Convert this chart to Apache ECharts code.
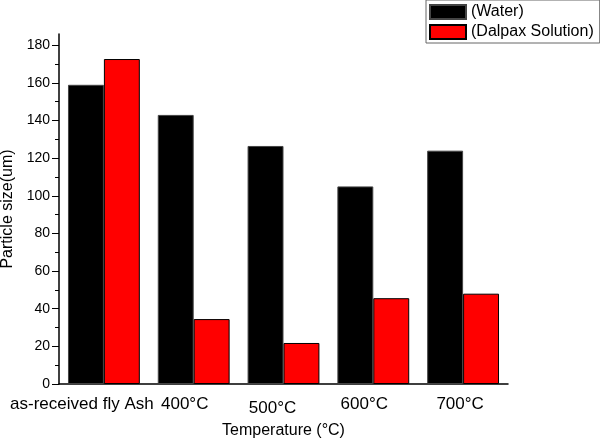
<!DOCTYPE html>
<html>
<head>
<meta charset="utf-8">
<script src="https://cdn.jsdelivr.net/npm/echarts@6/dist/echarts.min.js"></script>
<style>html,body{margin:0;padding:0;background:#fff}#c{width:600px;height:440px}</style>
</head>
<body>
<div id="c"></div>
<script>
var categories = ['as-received fly Ash', '400°C', '500°C', '600°C', '700°C'];
var waterValues = [159, 143, 126.5, 105, 124];
var dalpaxValues = [172.7, 34.5, 21.8, 45.6, 48];
var yTickValues = [0, 20, 40, 60, 80, 100, 120, 140, 160, 180];
var yMinorValues = [10, 30, 50, 70, 90, 110, 130, 150, 170];
var labelShifts = [44, 18, 22, 18, 6];
var labelDrops = [0, 0, 4, 0, 0];

var font = 'Liberation Sans, Arial, sans-serif';
var chart = echarts.init(document.getElementById('c'), null, {renderer: 'canvas'});
var catData = categories.map(function (c, i) {
  return {value: c, textStyle: {padding: [labelDrops[i], labelShifts[i], 0, 0]}};
});
chart.setOption({
  animation: false,
  backgroundColor: '#fff',
  grid: {left: 59, right: 92, top: 34, bottom: 56, containLabel: false, outerBoundsMode: 'none'},
  legend: {
    orient: 'vertical', left: 426, top: 0,
    padding: [4, 6, 3, 3], itemGap: 4,
    itemWidth: 36, itemHeight: 14,
    borderColor: '#666', borderWidth: 1,
    icon: 'rect',
    textStyle: {fontFamily: font, fontSize: 16, color: '#000'},
    data: ['(Water)', '(Dalpax Solution)']
  },
  xAxis: [{
    type: 'category', data: catData,
    name: 'Temperature (°C)', nameLocation: 'middle', nameGap: 39,
    nameTextStyle: {fontFamily: font, fontSize: 16, color: '#000'},
    axisLine: {lineStyle: {color: '#000', width: 1.5}},
    axisTick: {alignWithLabel: true, length: 8, lineStyle: {color: '#000'}},
    axisLabel: {fontFamily: font, fontSize: 17, color: '#000', margin: 12, interval: 0}
  }, {
    type: 'category', data: categories, position: 'bottom',
    axisLine: {show: false},
    axisTick: {length: 4, lineStyle: {color: '#000'}},
    axisLabel: {show: false}
  }],
  yAxis: [{
    type: 'value', min: 0, max: 186,
    name: 'Particle size(um)', nameLocation: 'middle', nameGap: 41,
    nameTextStyle: {fontFamily: font, fontSize: 16, color: '#000'},
    axisLine: {show: true, lineStyle: {color: '#000', width: 1.5}},
    axisTick: {show: true, length: 7, customValues: yTickValues, lineStyle: {color: '#000'}},
    axisLabel: {fontFamily: font, fontSize: 14, color: '#000', margin: 9, customValues: yTickValues},
    splitLine: {show: false}
  }, {
    type: 'value', min: 0, max: 186, position: 'left',
    axisLine: {show: false},
    axisTick: {show: true, length: 4, customValues: yMinorValues, lineStyle: {color: '#000'}},
    axisLabel: {show: false, customValues: yMinorValues},
    splitLine: {show: false}
  }],
  series: [{
    name: '(Water)', type: 'bar', data: waterValues,
    barGap: '0%', barCategoryGap: '20%',
    itemStyle: {color: '#000', borderColor: '#444', borderWidth: 1}
  }, {
    name: '(Dalpax Solution)', type: 'bar', data: dalpaxValues,
    barGap: '0%', barCategoryGap: '20%',
    itemStyle: {color: '#ff0000', borderColor: '#000', borderWidth: 1}
  }]
});
</script>
</body>
</html>
